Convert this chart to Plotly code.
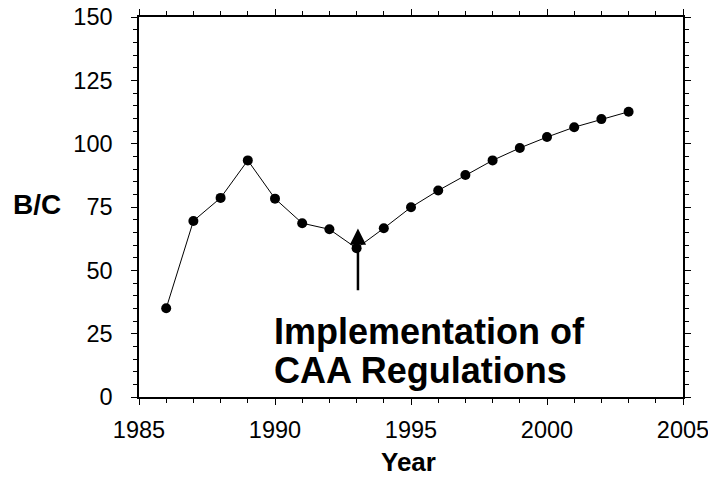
import plotly.graph_objects as go

years = list(range(1986, 2004))
bc_values = [35, 69.5, 78.6, 93.4, 78.3, 68.6, 66.2, 58.7, 66.6, 74.9, 81.5, 87.6, 93.4, 98.3, 102.6, 106.5, 109.7, 112.6]

x_ticks = [1985, 1990, 1995, 2000, 2005]
y_ticks = [0, 25, 50, 75, 100, 125, 150]

arrow_year = 1993.05
arrow_tip = 66.5
arrow_tail = 41.5

FONT = "Liberation Sans, Arial, sans-serif"

fig = go.Figure()
fig.add_trace(go.Scatter(
    x=years, y=bc_values, mode="lines+markers",
    line=dict(color="black", width=1),
    marker=dict(color="black", size=10),
    showlegend=False, cliponaxis=False,
))

axis_common = dict(
    showline=True, linecolor="black", linewidth=1.5,
    ticks="outside", tickcolor="black", tickwidth=1, ticklen=6,
    mirror="allticks", showgrid=False, zeroline=False, automargin=False,
    tickfont=dict(family=FONT, size=23.5, color="black"),
)

fig.update_xaxes(
    range=[1985, 2005], tickvals=x_ticks, ticktext=[str(v) for v in x_ticks],
    minor=dict(dtick=1, tick0=1985, ticks="outside", ticklen=4, tickcolor="black", tickwidth=1),
    ticklabelstandoff=5, ticklabeloverflow="allow",
    **axis_common,
)
fig.update_yaxes(
    range=[0, 150], tickvals=y_ticks, ticktext=[str(v) for v in y_ticks],
    minor=dict(dtick=5, tick0=0, ticks="outside", ticklen=4, tickcolor="black", tickwidth=1),
    ticklabelstandoff=14, ticklabeloverflow="allow",
    **axis_common,
)

# arrow
fig.add_annotation(
    x=arrow_year, y=arrow_tip, ax=arrow_year, ay=arrow_tail,
    xref="x", yref="y", axref="x", ayref="y",
    showarrow=True, arrowhead=2, arrowsize=1.3, arrowwidth=2.5,
    arrowcolor="black", text="",
)

# annotation text
fig.add_annotation(
    x=1989.9, y=26.0, xref="x", yref="y", xanchor="left", yanchor="middle",
    text="<b>Implementation of</b>", showarrow=False,
    font=dict(family=FONT, size=36, color="black"),
)
fig.add_annotation(
    x=1989.9, y=10.3, xref="x", yref="y", xanchor="left", yanchor="middle",
    text="<b>CAA Regulations</b>", showarrow=False,
    font=dict(family=FONT, size=36, color="black"),
)

# axis titles
fig.add_annotation(
    x=-0.1866, y=76, xref="paper", yref="y", xanchor="center", yanchor="middle",
    text="<b>B/C</b>", showarrow=False,
    font=dict(family=FONT, size=28, color="black"),
)
fig.add_annotation(
    x=0.496, y=-0.17, xref="paper", yref="paper", xanchor="center", yanchor="middle",
    text="<b>Year</b>", showarrow=False,
    font=dict(family=FONT, size=26, color="black"),
)

fig.update_layout(
    width=708, height=477,
    margin=dict(l=139, r=25, t=17, b=80, autoexpand=False),
    paper_bgcolor="white", plot_bgcolor="white",
)

fig.write_html(
    "out.html",
    config={"displayModeBar": False},
    post_script="document.body.style.margin='0';document.body.style.padding='0';",
)
